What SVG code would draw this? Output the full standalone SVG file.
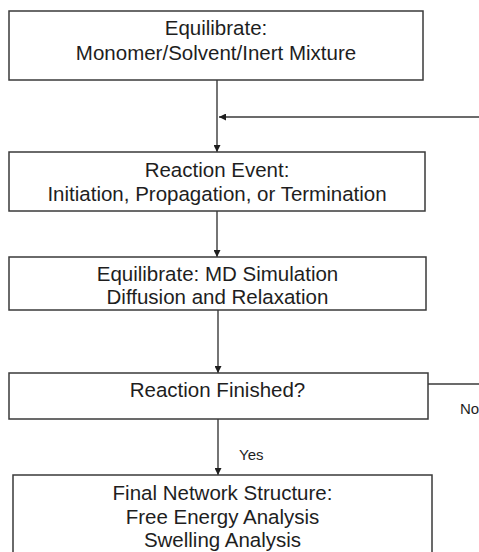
<svg xmlns="http://www.w3.org/2000/svg" width="479" height="552" viewBox="0 0 479 552">
<style>
.box{fill:#fff;stroke:#3a3a3a;stroke-width:1.5}
.t{font-family:"Liberation Sans",Arial,sans-serif;font-size:20.5px;fill:#1e1e1e;text-anchor:middle}
.s{font-family:"Liberation Sans",Arial,sans-serif;font-size:15px;fill:#1e1e1e}
.ln{fill:none;stroke:#3a3a3a;stroke-width:1.4}
</style>
<defs>
<marker id="ah" viewBox="0 0 10 10" refX="10" refY="5" markerWidth="7" markerHeight="7" markerUnits="userSpaceOnUse" orient="auto">
<path d="M0,0 L10,5 L0,10 z" fill="#1e1e1e"/>
</marker>
</defs>
<rect width="479" height="552" fill="#fff"/>
<g id="connectors">
<path class="ln" d="M217,80 V152" marker-end="url(#ah)"/>
<path class="ln" d="M479,117 H219" marker-end="url(#ah)"/>
<path class="ln" d="M217,211 V257" marker-end="url(#ah)"/>
<path class="ln" d="M218,310 V373" marker-end="url(#ah)"/>
<path class="ln" d="M218,419 V475" marker-end="url(#ah)"/>
<path class="ln" d="M428,384 H479"/>
<text class="s" x="239" y="460">Yes</text>
<text class="s" x="460" y="414">No</text>
</g>
<g id="n1">
<rect class="box" x="9" y="11" width="414" height="69"/>
<text class="t" x="216" y="35">Equilibrate:</text>
<text class="t" x="216" y="60">Monomer/Solvent/Inert Mixture</text>
</g>
<g id="n2">
<rect class="box" x="9" y="152" width="416" height="59"/>
<text class="t" x="217" y="177">Reaction Event:</text>
<text class="t" x="217" y="201">Initiation, Propagation, or Termination</text>
</g>
<g id="n3">
<rect class="box" x="9" y="257" width="417" height="53"/>
<text class="t" x="217.5" y="281">Equilibrate: MD Simulation</text>
<text class="t" x="217.5" y="304">Diffusion and Relaxation</text>
</g>
<g id="n4">
<rect class="box" x="9" y="373" width="419" height="46"/>
<text class="t" x="217.5" y="397">Reaction Finished?</text>
</g>
<g id="n5">
<rect class="box" x="13" y="475" width="419" height="90"/>
<text class="t" x="222.5" y="500">Final Network Structure:</text>
<text class="t" x="222.5" y="524">Free Energy Analysis</text>
<text class="t" x="222.5" y="547">Swelling Analysis</text>
</g>
</svg>
